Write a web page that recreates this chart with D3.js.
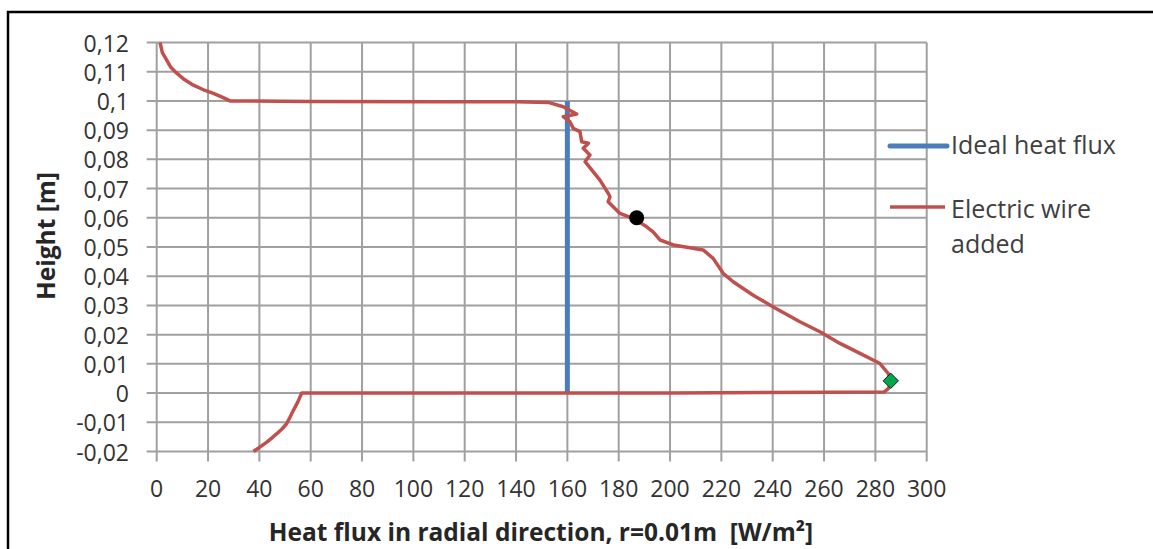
<!DOCTYPE html>
<meta charset="utf-8">
<style>

body {
  margin: 0;
  background: #fff;
}

svg {
  font-family: "Open Sans", sans-serif;
}

.grid line {
  stroke: #a0a0a0;
  stroke-width: 2;
}

.tick-label {
  font-size: 23px;
  fill: #333;
}

.axis-title {
  font-size: 24.5px;
  font-weight: bold;
  fill: #262626;
}

.legend text {
  font-size: 25px;
  fill: #404040;
}

</style>
<svg width="1153" height="549"></svg>
<script src="https://d3js.org/d3.v7.min.js"></script>

<script>

// x ticks and y ticks (y uses decimal comma, as in the original)
var xTicks = [0, 20, 40, 60, 80, 100, 120, 140, 160, 180, 200, 220, 240, 260, 280, 300];
var yTicks = [-0.02, -0.01, 0, 0.01, 0.02, 0.03, 0.04, 0.05, 0.06, 0.07, 0.08, 0.09, 0.1, 0.11, 0.12];
var yTickLabels = ["-0,02", "-0,01", "0", "0,01", "0,02", "0,03", "0,04", "0,05", "0,06", "0,07", "0,08", "0,09", "0,1", "0,11", "0,12"];

// "Ideal heat flux"
var idealX = [160, 160];
var idealY = [0, 0.1];

// "Electric wire added"
var wireX = [1.3, 2.2, 3.9, 5.5, 7.8, 10.8, 14.3, 18, 22.1, 25.5, 28.6, 60, 110, 140, 152.6, 158.4, 163.6, 158.4, 161.0, 162.3, 164.9, 165.6, 168.2, 166.2, 168.8, 166.9, 172.7, 175.9, 176.6, 175.9, 180.5, 186.3, 190.9, 193.4, 196.1, 201.3, 206, 212.9, 216.8, 220.7, 224.6, 232.4, 240.2, 250.6, 258.4, 266.2, 274.0, 281.8, 285.0, 286.3, 285.0, 283.5, 264, 200, 56.5, 55, 53.2, 51.8, 50.6, 48.8, 46.8, 44.8, 42.9, 40.3, 37.7];
var wireY = [0.12, 0.1165, 0.114, 0.1115, 0.1095, 0.1073, 0.1054, 0.1039, 0.1026, 0.1013, 0.1, 0.0998, 0.0997, 0.0997, 0.0995, 0.0980, 0.0955, 0.0946, 0.0929, 0.0906, 0.0895, 0.0860, 0.0855, 0.0838, 0.0815, 0.0792, 0.0729, 0.0684, 0.0672, 0.0655, 0.0615, 0.0595, 0.0569, 0.0552, 0.0524, 0.0507, 0.0500, 0.0490, 0.0461, 0.0410, 0.0381, 0.0335, 0.0295, 0.0244, 0.0210, 0.0170, 0.0136, 0.0101, 0.0067, 0.0040, 0.0015, 0.0004, 0.0003, 0.0, 0.0, -0.003, -0.006, -0.0085, -0.0105, -0.0123, -0.0139, -0.0154, -0.0168, -0.0184, -0.02];

// marked points
var dotPoint = [187, 0.06];
var diamondPoint = [286, 0.0042];

var legendNames = ["Ideal heat flux", "Electric wire added"];

var svg = d3.select("svg"),
    width = +svg.attr("width"),
    height = +svg.attr("height");

var plotLeft = 156.7, plotRight = 926.7,
    plotTop = 42.5, plotBottom = 451.5,
    tickLen = 10;

var x = d3.scaleLinear().domain([0, 300]).range([plotLeft, plotRight]);
var y = d3.scaleLinear().domain([-0.02, 0.12]).range([plotBottom, plotTop]);

// outer frame (only top and left edges show in the crop)
svg.append("path")
    .attr("d", "M8," + height + "V12H" + width)
    .attr("fill", "none")
    .attr("stroke", "#000")
    .attr("stroke-width", 2.5);

// grid: vertical lines run past the bottom as ticks, horizontal past the left
var grid = svg.append("g").attr("class", "grid");

grid.selectAll(".vline")
  .data(xTicks)
  .enter().append("line")
    .attr("x1", function(d) { return x(d); })
    .attr("x2", function(d) { return x(d); })
    .attr("y1", plotTop)
    .attr("y2", plotBottom + tickLen);

grid.selectAll(".hline")
  .data(yTicks)
  .enter().append("line")
    .attr("x1", plotLeft - tickLen)
    .attr("x2", plotRight)
    .attr("y1", function(d) { return y(d); })
    .attr("y2", function(d) { return y(d); });

// tick labels
svg.append("g").selectAll("text")
  .data(xTicks)
  .enter().append("text")
    .attr("class", "tick-label")
    .attr("x", function(d) { return x(d); })
    .attr("y", 497)
    .attr("text-anchor", "middle")
    .text(function(d) { return d; });

svg.append("g").selectAll("text")
  .data(yTicks)
  .enter().append("text")
    .attr("class", "tick-label")
    .attr("x", 129)
    .attr("y", function(d) { return y(d) + 9; })
    .attr("text-anchor", "end")
    .text(function(d, i) { return yTickLabels[i]; });

// axis titles
svg.append("text")
    .attr("class", "axis-title")
    .attr("x", 541)
    .attr("y", 541)
    .attr("text-anchor", "middle")
    .attr("xml:space", "preserve")
    .text("Heat flux in radial direction, r=0.01m  [W/m²]");

svg.append("text")
    .attr("class", "axis-title")
    .attr("transform", "translate(55,236) rotate(-90)")
    .attr("text-anchor", "middle")
    .text("Height [m]");

// series
var line = d3.line()
    .x(function(d) { return x(d[0]); })
    .y(function(d) { return y(d[1]); });

svg.append("path")
    .datum(d3.zip(idealX, idealY))
    .attr("d", line)
    .attr("fill", "none")
    .attr("stroke", "#4a7ebb")
    .attr("stroke-width", 5);

svg.append("path")
    .datum(d3.zip(wireX, wireY))
    .attr("d", line)
    .attr("fill", "none")
    .attr("stroke", "#c0504d")
    .attr("stroke-width", 3.5)
    .attr("stroke-linejoin", "round");

svg.append("circle")
    .attr("cx", x(dotPoint[0]))
    .attr("cy", y(dotPoint[1]))
    .attr("r", 7.5)
    .attr("fill", "#000");

svg.append("path")
    .attr("d", d3.symbol().type(d3.symbolDiamond2).size(150))
    .attr("transform", "translate(" + x(diamondPoint[0]) + "," + y(diamondPoint[1]) + ")")
    .attr("fill", "#00a84f")
    .attr("stroke", "#1a1a1a")
    .attr("stroke-width", 1);

// legend
var legend = svg.append("g").attr("class", "legend");

legend.append("line")
    .attr("x1", 890).attr("x2", 947)
    .attr("y1", 146).attr("y2", 146)
    .attr("stroke", "#4a7ebb")
    .attr("stroke-width", 5)
    .attr("stroke-linecap", "round");

legend.append("text")
    .attr("x", 951)
    .attr("y", 154)
    .text(legendNames[0]);

legend.append("line")
    .attr("x1", 890).attr("x2", 945)
    .attr("y1", 207).attr("y2", 207)
    .attr("stroke", "#c0504d")
    .attr("stroke-width", 3.5);

var wireLabel = legend.append("text")
    .attr("x", 951)
    .attr("y", 218);

wireLabel.append("tspan")
    .text("Electric wire");
wireLabel.append("tspan")
    .attr("x", 951)
    .attr("dy", 35)
    .text("added");

</script>
